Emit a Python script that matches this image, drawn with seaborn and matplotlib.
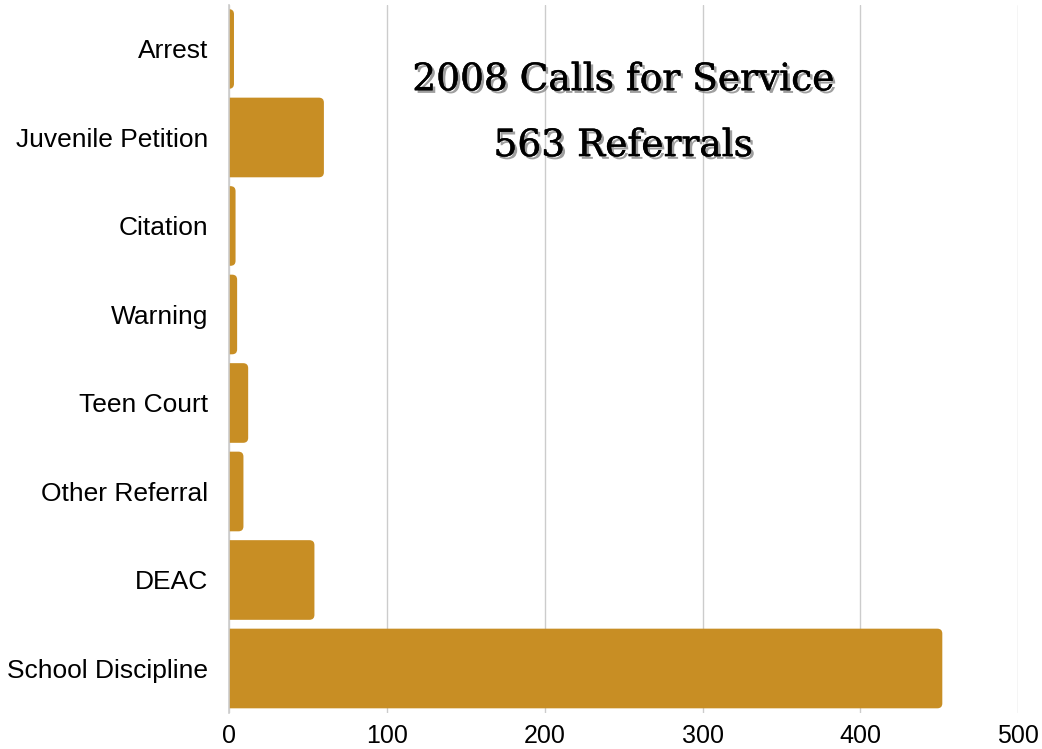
import matplotlib
matplotlib.use("Agg")
import matplotlib.pyplot as plt
import matplotlib.patheffects as pe
from matplotlib.patches import FancyBboxPatch
import pandas as pd
import seaborn as sns

# Datos
categorias = ["Arrest", "Juvenile Petition", "Citation", "Warning",
              "Teen Court", "Other Referral", "DEAC", "School Discipline"]
cantidades = [3, 60, 4, 5, 12, 9, 54, 452]
ticks_x = [0, 100, 200, 300, 400, 500]
titulo = ["2008 Calls for Service", "563 Referrals"]

df = pd.DataFrame({"categoria": categorias, "cantidad": cantidades})

sns.set_style("white")
plt.rcParams["font.family"] = ["Liberation Sans", "DejaVu Sans"]

fig = plt.figure(figsize=(10.42, 7.49), dpi=100)
ax = fig.add_axes([0.22, 0.0484, 0.757, 0.9453])

color_barra = "#C88E24"
sns.barplot(data=df, x="cantidad", y="categoria", color=color_barra,
            width=0.9, saturation=1, ax=ax, zorder=3)

ax.set_xlim(0, 500)
ax.set_xticks(ticks_x)

# Barras con esquinas redondeadas (extremo derecho)
radio_x = 3.2
radio_y = 0.056
for p in list(ax.patches):
    x0, y0 = p.get_x(), p.get_y()
    w, h = p.get_width(), p.get_height()
    p.set_visible(False)
    rr = FancyBboxPatch((x0 - 10, y0), w + 10, h,
                        boxstyle=f"round,pad=0,rounding_size={radio_x}",
                        mutation_aspect=radio_y / radio_x,
                        facecolor=color_barra, edgecolor="none", zorder=3,
                        clip_on=True)
    ax.add_patch(rr)

ax.grid(axis="x", color="#cccccc", linewidth=1, zorder=0)
ax.grid(axis="y", visible=False)
for s in ["top", "right", "bottom"]:
    ax.spines[s].set_visible(False)
ax.spines["left"].set_color("#cccccc")
ax.spines["left"].set_linewidth(1.2)
ax.spines["left"].set_zorder(4)
ax.tick_params(axis="y", length=0, labelsize=19, colors="black", pad=15)
ax.tick_params(axis="x", length=0, labelsize=18, colors="black", pad=8)
ax.set_xlabel("")
ax.set_ylabel("")

# Titulo con sombra y trazo un poco mas grueso
sombra = [pe.SimplePatchShadow(offset=(2, -2), shadow_rgbFace="#777777", alpha=0.7),
          pe.withStroke(linewidth=0.35, foreground="black")]
for texto, yy in zip(titulo, [0.893, 0.805]):
    fig.text(0.598, yy, texto, ha="center", va="center", fontsize=27,
             family=["DejaVu Serif"], color="black", path_effects=sombra)

fig.savefig("out.png", dpi=100)
